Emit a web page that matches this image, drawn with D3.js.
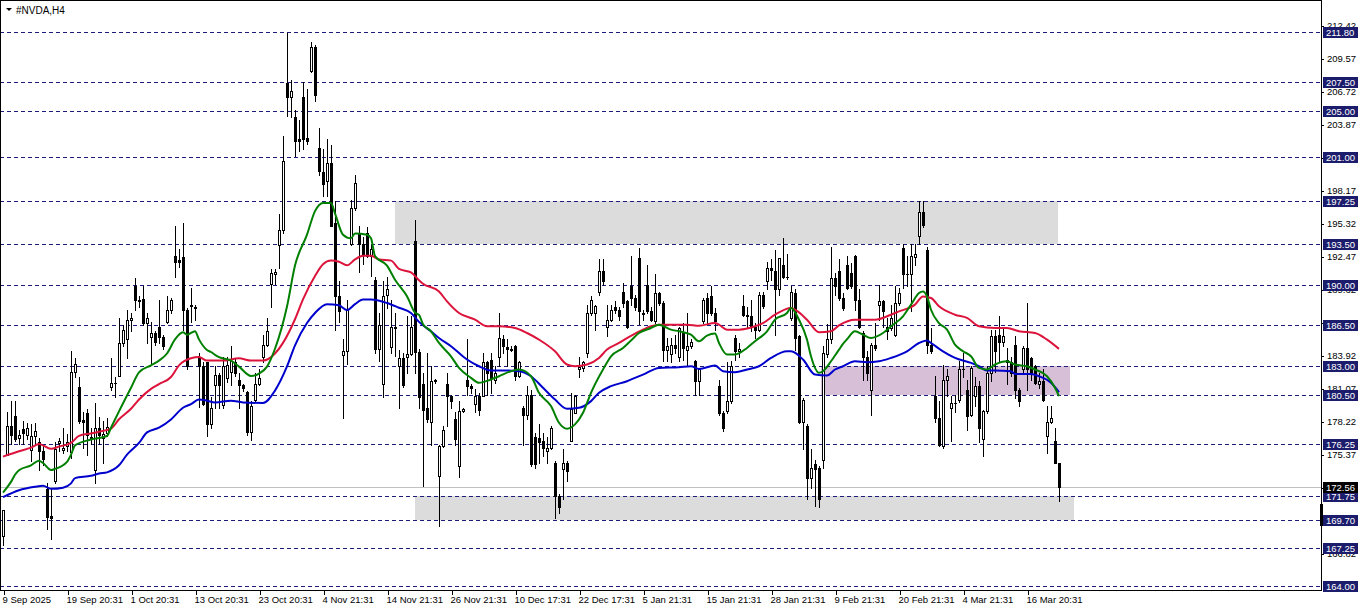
<!DOCTYPE html>
<html><head><meta charset="utf-8">
<script src="https://cdn.jsdelivr.net/npm/d3@7"></script>
<style>
html,body{margin:0;padding:0;background:#fff;overflow:hidden}
svg{display:block}
text{font-family:"Liberation Sans",Arial,sans-serif}
</style></head><body>
<svg id="chart" width="1362" height="611"></svg>
<script>
// ---------------- DATA ----------------
const symbolTitle = "#NVDA,H4";
const opens = [
168.3,175.35,177.8,178.65,176.75,177.55,177.05,175.75,176.95,176.45,
175.65,172.4,170.05,173.1,176.35,175.75,176.05,175.55,182.45,181.15,
178.35,178.95,176.85,174.05,177.65,176.75,177.25,181.15,181.55,182.15,
185.0,185.3,187.0,189.9,188.7,188.8,186.7,185.5,185.8,186.4,
185.5,186.8,187.8,192.5,192.1,192.4,187.8,188.2,188.1,183.65,
182.95,183.35,177.95,181.35,182.2,179.6,181.95,182.45,183.35,181.75,
181.35,180.75,177.3,180.1,181.45,183.75,184.8,190.05,190.95,193.4,
194.7,207.4,206.2,204.5,202.55,206.2,202.65,208.5,210.5,201.85,
199.7,199.0,200.5,195.35,189.05,183.95,184.25,193.5,196.6,194.4,
193.5,194.5,192.5,190.45,184.45,181.45,189.15,184.65,186.4,182.95,
183.65,183.75,184.05,193.8,184.2,181.4,179.4,178.2,181.7,173.5,
176.1,181.4,180.4,178.4,174.4,179.1,181.8,181.25,179.7,180.4,
180.4,183.3,183.55,181.8,183.8,185.3,184.6,184.5,184.7,182.1,
179.4,178.8,180.5,176.9,176.8,176.5,175.65,175.9,174.65,171.8,
174.1,174.65,176.5,178.95,182.7,182.8,184.1,187.6,187.6,189.4,
191.2,186.4,187.0,188.1,187.85,189.4,188.6,189.9,188.9,192.3,
187.45,190.0,187.7,186.85,189.3,188.4,184.4,184.0,184.8,183.8,
185.8,184.4,184.7,183.4,181.7,186.85,188.9,189.0,187.6,181.25,
178.95,179.1,179.96,185.4,184.3,188.14,187.4,187.3,186.4,186.1,
189.15,190.3,191.45,191.16,189.6,191.7,190.7,187.1,189.3,185.6,
178.2,177.8,173.35,174.5,174.2,174.9,184.0,185.3,190.6,191.16,
188.86,191.7,191.0,192.45,188.7,185.85,183.8,180.96,184.8,188.3,
188.6,186.4,186.3,185.7,188.4,193.2,190.9,190.9,192.4,194.2,
196.3,193.0,184.8,180.4,178.5,176.1,181.8,179.4,179.8,180.1,
182.7,180.96,178.8,180.4,181.25,176.7,179.1,182.4,185.6,185.7,
185.1,183.55,183.3,184.8,180.96,182.7,184.55,183.7,182.97,181.4,
181.7,176.94,178.2,176.5,174.65];
const highs = [
170.6,179.0,180.0,180.0,177.5,178.25,178.05,177.95,178.05,176.75,
176.15,172.9,172.4,176.45,176.75,177.65,177.15,184.25,183.65,182.05,
179.05,179.25,177.65,179.8,178.55,178.25,178.5,183.65,182.05,187.1,
186.55,187.85,187.55,190.6,189.0,189.9,187.55,186.8,186.0,188.7,
185.7,189.0,188.85,195.05,193.1,195.35,188.0,189.75,188.3,184.15,
183.3,183.35,180.3,182.95,182.35,183.75,183.75,184.75,183.65,182.35,
181.45,180.85,180.0,182.35,182.75,185.7,187.1,191.35,191.35,196.15,
202.85,211.7,207.7,205.1,204.2,207.5,206.9,211.0,210.7,203.55,
201.75,202.55,202.05,197.2,190.35,185.3,188.7,197.35,199.5,195.1,
194.1,195.0,193.4,190.65,187.55,190.35,190.65,188.7,187.55,184.35,
184.15,187.3,187.3,195.6,184.45,182.4,184.1,183.0,181.9,176.2,
177.8,182.4,180.5,179.0,180.0,179.4,185.3,181.4,181.0,180.7,
184.1,183.4,184.1,183.0,187.6,185.7,185.3,184.7,184.8,183.4,
179.5,181.25,180.96,177.2,178.0,177.2,176.9,177.8,174.8,171.9,
175.8,174.8,180.7,180.5,183.8,183.4,188.3,189.0,188.3,192.2,
192.2,188.3,188.3,188.6,188.1,190.15,188.7,192.5,189.1,193.2,
187.8,191.7,188.1,190.9,189.4,188.6,185.4,185.4,185.7,186.4,
186.7,187.6,185.3,183.55,182.8,188.9,189.3,189.9,188.0,181.8,
179.1,183.3,183.4,185.7,185.0,189.15,188.1,188.7,186.7,189.4,
189.4,192.0,192.2,193.0,192.3,194.0,192.7,189.9,189.6,185.7,
180.2,178.0,175.8,174.9,174.4,184.7,186.6,193.3,191.0,192.2,
189.3,192.45,191.9,192.6,189.6,186.0,184.3,185.0,186.7,190.0,
188.7,187.1,188.3,189.9,189.7,193.5,192.45,193.5,193.5,197.2,
197.2,193.3,186.3,182.1,180.0,183.1,182.7,180.4,180.5,183.4,
184.1,181.8,183.0,182.0,181.7,179.2,183.0,186.1,186.1,187.3,
186.4,184.55,183.8,185.6,181.1,184.7,188.4,183.8,183.1,182.4,
182.7,179.5,179.5,177.66,174.65];
const lows = [
167.5,175.35,176.25,176.55,176.25,176.25,176.65,174.75,176.35,174.05,
174.45,168.95,168.05,172.9,175.65,175.45,175.65,175.05,182.05,178.05,
175.95,175.35,176.25,172.85,176.25,174.65,176.95,180.9,180.35,182.15,
184.7,183.65,186.0,187.85,188.1,186.55,184.95,183.05,184.8,185.0,
184.5,186.7,187.55,190.65,191.5,186.1,182.75,186.8,187.0,179.45,
179.6,176.95,177.65,179.4,179.4,179.4,181.65,181.35,182.15,179.4,
180.8,177.0,176.6,180.0,181.35,183.35,184.7,188.1,190.05,191.45,
194.5,204.6,204.5,201.15,201.55,201.75,202.15,208.4,205.9,199.5,
197.7,197.7,195.05,186.1,186.8,178.5,183.15,193.4,196.45,191.1,
191.8,192.4,190.75,184.15,183.45,180.35,188.0,184.15,183.85,179.4,
181.15,182.35,183.95,182.35,179.4,172.6,178.2,176.2,181.5,169.2,
176.0,177.8,179.4,176.2,173.4,179.0,180.5,180.7,179.0,178.8,
180.4,180.5,180.7,181.5,183.0,184.1,183.0,184.3,181.8,182.0,
176.2,178.4,174.4,174.2,174.65,175.2,174.65,175.8,169.9,170.3,
171.5,173.1,176.5,178.9,182.0,182.6,183.8,187.4,186.1,189.1,
190.0,185.6,186.85,187.6,187.0,188.1,186.3,188.3,187.85,186.6,
187.0,187.6,186.85,186.7,188.3,183.4,183.4,183.3,184.1,183.4,
183.55,183.1,184.55,180.5,180.5,186.7,186.7,187.4,186.1,178.8,
177.4,178.95,179.8,183.55,183.8,187.3,186.4,186.0,185.4,186.0,
188.0,189.6,190.4,185.7,189.15,190.6,190.5,187.0,184.4,178.1,
175.8,171.5,172.5,170.9,170.8,174.2,183.8,185.0,189.15,188.7,
187.85,189.6,189.7,187.85,186.3,181.8,181.8,178.8,184.4,187.0,
186.4,185.3,186.1,185.6,188.3,189.7,189.9,187.7,191.7,193.5,
195.0,184.1,184.1,178.2,176.1,175.9,180.4,176.5,179.0,179.9,
182.0,177.5,178.7,179.5,176.4,175.2,178.95,181.7,182.5,183.4,
184.7,181.4,182.1,180.2,179.5,182.5,180.96,181.8,181.4,181.1,
179.96,175.5,178.1,174.6,171.35];
const closes = [
170.55,177.8,177.05,176.65,177.05,177.25,177.65,176.95,177.35,175.65,
174.95,169.95,169.85,175.85,176.55,175.95,176.45,182.45,183.15,178.25,
178.15,177.05,176.65,177.65,177.05,177.15,177.75,181.55,181.55,185.0,
186.1,187.0,187.1,188.7,188.6,186.7,187.1,185.8,185.1,185.5,
184.7,187.8,188.7,192.0,191.95,187.8,182.95,188.3,188.0,182.95,
179.7,177.95,179.4,182.2,181.35,182.95,183.05,183.45,182.35,181.35,
181.05,177.3,179.55,181.45,181.95,184.8,186.0,191.05,191.15,194.7,
200.7,206.2,206.7,202.45,202.45,202.55,202.45,210.5,206.4,199.8,
198.7,200.5,195.05,189.05,187.7,184.25,187.8,196.6,198.8,193.5,
192.7,192.5,193.1,184.45,186.5,189.05,189.65,186.4,186.3,183.65,
181.35,184.05,186.4,184.2,180.35,179.2,178.4,181.7,181.8,176.1,
177.5,180.4,179.96,176.7,179.1,179.3,181.25,181.1,180.4,179.2,
183.3,182.4,181.97,182.4,185.4,184.7,184.5,184.4,182.1,183.3,
178.8,180.5,174.5,174.5,176.4,175.9,175.94,177.66,171.78,170.8,
174.65,173.9,179.24,180.4,182.9,183.3,187.6,188.7,188.2,191.2,
190.3,187.0,187.85,187.85,187.3,188.4,186.4,188.9,188.1,187.7,
187.6,187.7,187.0,189.3,188.4,184.4,184.7,184.8,184.55,186.3,
184.55,184.7,185.1,181.7,182.7,188.7,187.6,187.6,186.85,178.95,
177.66,179.96,182.97,184.3,184.5,187.4,187.3,186.4,186.1,189.15,
188.14,191.45,191.3,189.6,192.3,190.7,190.7,189.4,185.4,178.2,
180.1,173.35,174.2,174.07,171.5,184.1,185.3,190.6,189.9,188.86,
188.0,189.7,189.9,188.7,186.4,183.8,182.4,184.8,184.55,188.6,
187.7,186.0,187.1,188.4,189.3,190.9,190.95,192.45,192.7,196.3,
195.2,184.8,184.3,178.5,176.2,181.8,182.1,179.8,179.8,182.7,
182.75,178.7,182.8,181.25,177.66,179.1,182.4,185.6,184.3,185.1,
185.6,183.3,182.4,180.96,179.96,184.55,182.7,182.3,181.5,181.7,
180.1,178.2,178.5,174.65,172.56];

// moving averages: [bar index, value]
const maGreen = [[0,172.07],[2,172.99],[3,173.6],[4,174.0],[7,174.41],[9,174.82],[10,174.62],[12,174.01],[13,174.11],[16,174.72],[17,175.33],[18,176.14],[22,176.64],[26,176.95],[27,177.66],[29,179.08],[32,181.12],[34,182.44],[37,183.05],[39,183.46],[41,184.07],[43,185.29],[45,185.9],[46,185.7],[48,186.0],[49,185.29],[51,184.37],[52,184.2],[53,183.96],[54,183.76],[57,183.45],[59,182.94],[62,182.13],[64,182.34],[66,182.94],[68,184.48],[71,188.13],[73,191.66],[76,194.33],[78,196.36],[80,197.07],[82,197.07],[83,196.16],[85,194.33],[87,194.02],[88,194.43],[91,194.33],[92,194.02],[93,192.49],[96,191.66],[98,190.44],[101,189.01],[103,187.6],[104,187.4],[105,186.6],[107,185.99],[109,184.98],[112,183.83],[114,182.83],[117,181.97],[119,181.54],[122,181.83],[124,182.11],[127,182.54],[129,182.69],[132,182.11],[134,180.68],[137,179.53],[139,178.09],[141,177.58],[143,177.95],[145,178.95],[147,180.68],[150,182.69],[152,183.83],[155,184.55],[157,185.2],[159,185.84],[162,186.27],[164,186.56],[167,186.13],[169,185.99],[172,185.7],[174,185.13],[176,185.62],[178,185.79],[179,184.98],[181,183.98],[183,183.98],[186,184.55],[188,185.13],[191,185.99],[193,186.99],[196,187.57],[197,188.0],[199,186.99],[201,185.27],[202,183.83],[204,182.4],[205,182.54],[207,183.4],[208,183.9],[209,184.4],[210,184.9],[211,185.3],[213,185.99],[215,185.7],[217,185.41],[220,185.84],[222,186.42],[225,187.28],[227,188.29],[229,189.29],[230,189.43],[231,189.0],[232,187.85],[234,186.7],[236,186.13],[238,184.84],[240,184.27],[242,183.83],[244,182.83],[246,182.69],[248,183.12],[251,183.4],[253,183.12],[256,182.97],[258,182.69],[261,182.11],[263,181.11],[264,180.39]];
const maRed = [[0,175.17],[4,175.63],[7,175.94],[9,176.25],[12,175.84],[14,176.04],[17,176.35],[19,176.96],[22,177.17],[24,177.32],[27,177.58],[29,178.39],[32,179.3],[34,180.1],[37,181.02],[39,181.43],[42,182.04],[44,183.05],[47,183.66],[49,183.76],[51,183.46],[53,183.46],[55,183.46],[59,183.66],[62,183.46],[65,183.46],[68,184.07],[70,184.99],[73,187.03],[75,188.74],[78,190.76],[80,191.78],[82,192.09],[84,191.99],[86,191.68],[88,192.19],[90,192.5],[92,192.5],[94,192.19],[97,192.09],[99,191.37],[102,191.07],[104,190.4],[105,190.1],[109,189.43],[111,188.57],[114,187.57],[118,186.99],[121,186.42],[124,186.42],[128,186.27],[131,185.84],[134,185.27],[138,184.26],[141,183.12],[143,182.97],[146,183.12],[149,183.69],[151,184.41],[154,184.98],[157,185.6],[160,186.13],[162,186.42],[164,186.56],[167,186.56],[171,186.56],[174,186.47],[178,186.7],[179,186.56],[181,186.13],[184,186.13],[188,186.42],[190,186.7],[193,187.42],[197,188.0],[198,187.85],[201,186.99],[204,185.9],[207,185.99],[209,186.5],[213,186.99],[216,186.99],[218,186.99],[222,187.42],[224,187.71],[228,188.29],[230,189.0],[232,188.86],[234,188.14],[238,187.42],[241,187.14],[244,186.42],[248,186.27],[251,186.27],[254,185.99],[258,185.84],[261,185.27],[264,184.47]];
const maBlue = [[0,171.67],[4,172.27],[8,172.57],[10,172.66],[12,172.39],[15,172.49],[17,172.86],[18,173.31],[22,173.51],[24,173.71],[26,173.81],[29,174.42],[31,175.34],[34,176.35],[36,177.26],[39,177.67],[42,178.38],[45,179.39],[47,179.7],[49,180.1],[51,180.0],[53,179.85],[57,180.0],[60,179.85],[65,179.8],[68,180.87],[71,182.95],[73,184.78],[76,186.71],[78,187.57],[81,188.33],[84,188.23],[86,187.82],[88,188.33],[90,188.74],[92,188.74],[96,188.43],[99,188.02],[102,187.57],[104,186.8],[107,185.99],[109,185.41],[112,184.7],[116,183.55],[119,182.97],[122,182.6],[126,182.6],[129,182.54],[132,182.11],[135,181.11],[138,180.1],[141,179.3],[144,179.38],[147,179.96],[149,180.68],[152,181.25],[156,181.68],[158,181.97],[160,182.25],[164,182.83],[169,182.89],[172,182.97],[174,182.74],[178,183.03],[180,182.54],[183,182.45],[186,182.69],[189,182.97],[192,183.69],[196,184.26],[197,184.26],[200,183.55],[203,182.25],[206,182.17],[208,182.69],[210,182.97],[213,183.4],[216,183.32],[219,183.4],[222,183.69],[226,184.26],[229,184.98],[231,185.2],[232,184.98],[235,184.26],[238,183.69],[242,183.26],[244,182.97],[246,182.6],[248,182.6],[252,182.54],[253,182.31],[257,182.31],[259,182.11],[262,181.54],[264,180.73]];

// horizontal levels and zones
const levels = [211.80,207.50,205.00,201.00,197.25,193.50,190.00,186.50,183.00,180.50,176.25,171.75,169.70,167.25,164.00];
const gridTicks = [212.42,209.57,206.72,203.87,201.02,198.17,195.32,192.47,189.62,186.77,183.92,181.07,178.22,175.37,172.52,169.67,166.82];
const zones = [
  {from:98, to:263.75, hi:197.25, lo:193.50, color:"#dcdcdc"},
  {from:103, to:267.75, hi:171.75, lo:169.70, color:"#dcdcdc"},
  {from:204.5, to:266.75, hi:183.00, lo:180.50, color:"#d8bfd8"}
];
const lastPrice = 172.56;
const dateTickIdx = [0,16,32,48,64,80,96,112,128,144,160,176,192,208,224,240,256];
const dateTickLabels = ["9 Sep 2025","19 Sep 20:31","1 Oct 20:31","13 Oct 20:31","23 Oct 20:31","4 Nov 21:31","14 Nov 21:31","26 Nov 21:31","10 Dec 17:31","22 Dec 17:31","5 Jan 21:31","15 Jan 21:31","28 Jan 21:31","9 Feb 21:31","20 Feb 21:31","4 Mar 21:31","16 Mar 20:31"];

// ---------------- LAYOUT ----------------
const W = 1362, H = 611;
const plotR = 1321, plotB = 590;
const N = Math.min(opens.length, highs.length, lows.length, closes.length);
const svg = d3.select("#chart");
const x = d3.scaleLinear().domain([0, 264]).range([3, 1059]);
const y = d3.scaleLinear().domain([164, 211.8]).range([586, 32.3]);
const R = v => Math.round(y(v));

svg.append("rect").attr("width", W).attr("height", H).attr("fill", "#fff");
svg.append("defs").append("clipPath").attr("id", "clip")
  .append("rect").attr("x", 1).attr("y", 1).attr("width", plotR - 1).attr("height", plotB - 1);
const plot = svg.append("g").attr("clip-path", "url(#clip)").attr("shape-rendering", "crispEdges");

// zones
plot.selectAll("rect.zone").data(zones).join("rect").attr("class", "zone")
  .attr("x", d => Math.round(x(d.from))).attr("width", d => Math.round(x(d.to)) - Math.round(x(d.from)))
  .attr("y", d => R(d.hi)).attr("height", d => R(d.lo) - R(d.hi)).attr("fill", d => d.color);

// current price line
plot.append("line").attr("x1", 0).attr("x2", plotR).attr("y1", R(lastPrice) + 0.5).attr("y2", R(lastPrice) + 0.5)
  .attr("stroke", "#c0c0c0");

// level lines
plot.selectAll("line.lvl").data(levels).join("line").attr("class", "lvl")
  .attr("x1", 0).attr("x2", plotR).attr("y1", d => R(d) + 0.5).attr("y2", d => R(d) + 0.5)
  .attr("stroke", "#1c1c7a").attr("stroke-dasharray", "4,3");

// candles
const bars = d3.range(N).map(i => ({i, o: opens[i], h: highs[i], l: lows[i], c: closes[i]}));
const cg = plot.append("g");
cg.selectAll("line.wick").data(bars).join("line").attr("class", "wick")
  .attr("x1", d => Math.round(x(d.i)) + 0.5).attr("x2", d => Math.round(x(d.i)) + 0.5)
  .attr("y1", d => R(d.h)).attr("y2", d => R(d.l) + 1).attr("stroke", "#000");
cg.selectAll("rect.body").data(bars).join("rect").attr("class", "body")
  .each(function(d) {
    const cx = Math.round(x(d.i));
    const top = Math.min(R(d.o), R(d.c)), bot = Math.max(R(d.o), R(d.c));
    const s = d3.select(this);
    if (d.c >= d.o && bot - top >= 2) {
      s.attr("x", cx - 0.5).attr("y", top + 0.5).attr("width", 2).attr("height", bot - top)
       .attr("fill", "#fff").attr("stroke", "#000");
    } else {
      s.attr("x", cx - 1).attr("y", top).attr("width", 3).attr("height", Math.max(1, bot - top + 1))
       .attr("fill", "#000");
    }
  });

// moving averages
const lineGen = d3.line().x(d => x(d[0])).y(d => y(d[1])).curve(d3.curveMonotoneX);
const mg = svg.append("g").attr("clip-path", "url(#clip)");
[[maRed, "#dc143c"], [maBlue, "#0000cd"], [maGreen, "#008000"]].forEach(([data, col]) => {
  mg.append("path").datum(data).attr("d", lineGen).attr("fill", "none")
    .attr("stroke", col).attr("stroke-width", 2).attr("stroke-linejoin", "round");
});

// frame
const fr = svg.append("g").attr("shape-rendering", "crispEdges").attr("stroke", "#000");
fr.append("line").attr("x1", 0).attr("x2", plotR + 1).attr("y1", 0.5).attr("y2", 0.5);
fr.append("line").attr("x1", 0.5).attr("x2", 0.5).attr("y1", 0).attr("y2", plotB);
fr.append("line").attr("x1", plotR + 0.5).attr("x2", plotR + 0.5).attr("y1", 0).attr("y2", plotB + 1);
fr.append("line").attr("x1", 0).attr("x2", plotR + 1).attr("y1", plotB + 0.5).attr("y2", plotB + 0.5);

// x axis
const xAxis = d3.axisBottom(x).tickValues(dateTickIdx).tickFormat((d, i) => dateTickLabels[i]).tickSize(5).tickSizeOuter(0);
const xg = svg.append("g").attr("transform", `translate(0.5,${plotB})`).call(xAxis);
xg.select(".domain").remove();
xg.selectAll(".tick line").attr("stroke", "#000").attr("shape-rendering", "crispEdges");
xg.selectAll(".tick text").attr("text-anchor", "start").attr("x", -1.5).attr("y", 13).attr("dy", 0)
  .attr("fill", "#000").style("font-size", "9.5px").style("font-family", "'Liberation Sans',Arial,sans-serif");

// y axis grid labels
const yAxis = d3.axisRight(y).tickValues(gridTicks).tickFormat(d3.format(".2f")).tickSize(3);
const yg = svg.append("g").attr("transform", `translate(${plotR},0.5)`).call(yAxis);
yg.select(".domain").remove();
yg.selectAll(".tick line").attr("stroke", "#000").attr("shape-rendering", "crispEdges");
yg.selectAll(".tick text").attr("x", 6).attr("fill", "#000").style("font-size", "9.5px")
  .style("font-family", "'Liberation Sans',Arial,sans-serif");

// level labels
const lab = svg.append("g");
const lblData = levels.map(v => ({v, fill: "#1c1c6c"})).concat([{v: lastPrice, fill: "#000"}]);
lab.selectAll("rect").data(lblData).join("rect").attr("shape-rendering", "crispEdges")
  .attr("x", plotR + 2).attr("y", d => R(d.v) - 5).attr("width", 35).attr("height", 11).attr("fill", d => d.fill);
lab.selectAll("text").data(lblData).join("text")
  .attr("x", plotR + 5).attr("y", d => R(d.v) + 4).attr("fill", "#fff").style("font-size", "9.5px")
  .text(d => d3.format(".2f")(d.v));
// marker on axis
svg.append("rect").attr("x", plotR - 1).attr("y", R(171.05)).attr("width", 3).attr("height", R(169.15) - R(171.05)).attr("fill", "#000");

// title
svg.append("path").attr("d", "M6,8 L12,8 L9,11 Z").attr("fill", "#000");
svg.append("text").attr("x", 16).attr("y", 14).attr("fill", "#000").style("font-size", "10px").text(symbolTitle);
</script></body></html>
